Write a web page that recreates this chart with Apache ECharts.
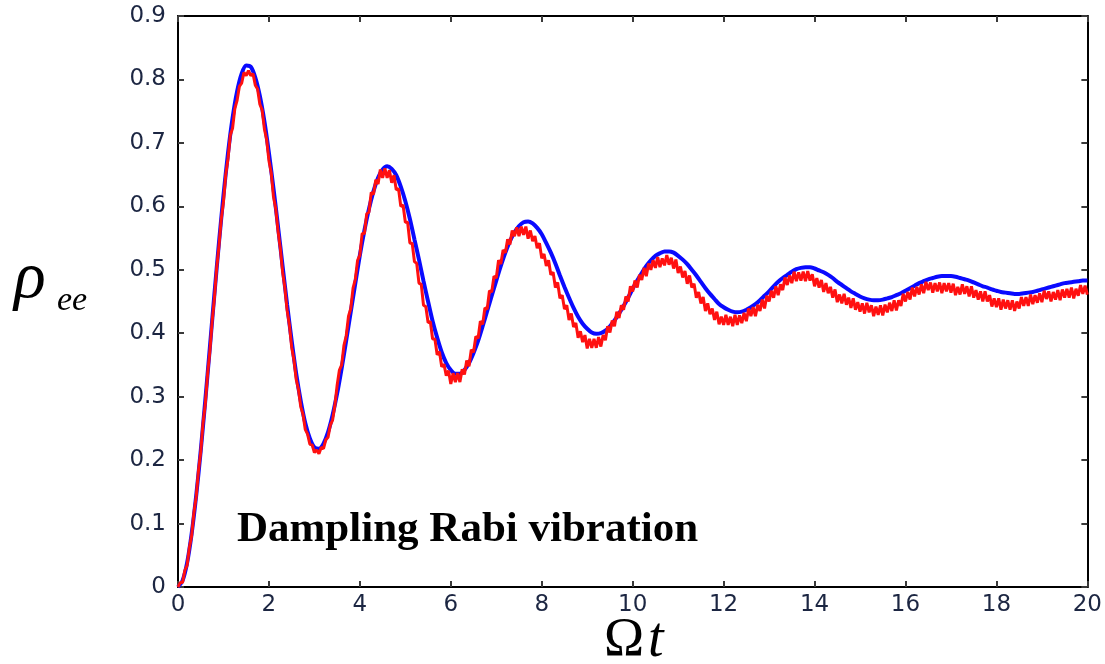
<!DOCTYPE html>
<html>
<head>
<meta charset="utf-8">
<script src="https://cdn.jsdelivr.net/npm/echarts@6/dist/echarts.min.js"></script>
<style>
html,body{margin:0;padding:0;background:#fff;}
#chart{width:1105px;height:664px;}
</style>
</head>
<body>
<div id="chart"></div>
<script>
// x ticks and y ticks
const xTickLabels = ['0','2','4','6','8','10','12','14','16','18','20'];
const yTickLabels = ['0','0.1','0.2','0.3','0.4','0.5','0.6','0.7','0.8','0.9'];

// sampling grids (Omega t)
const blueStep = 0.1;
const redStep = 0.05;

// exact damped Rabi curve (blue), sampled every 0.1 from 0 to 20
const rhoBlue = [
0.000,0.010,0.038,0.084,0.144,0.215,0.294,0.377,0.461,0.542,
0.617,0.684,0.739,0.781,0.809,0.822,0.820,0.803,0.774,0.734,
0.684,0.628,0.568,0.506,0.445,0.388,0.336,0.293,0.258,0.234,
0.220,0.218,0.226,0.244,0.271,0.305,0.345,0.389,0.434,0.479,
0.523,0.562,0.596,0.624,0.645,0.658,0.663,0.659,0.649,0.631,
0.608,0.580,0.548,0.516,0.482,0.450,0.419,0.393,0.370,0.353,
0.342,0.336,0.336,0.342,0.353,0.369,0.388,0.411,0.435,0.459,
0.483,0.506,0.527,0.545,0.559,0.569,0.575,0.576,0.573,0.566,
0.556,0.542,0.527,0.510,0.491,0.473,0.456,0.440,0.426,0.415,
0.407,0.401,0.399,0.400,0.404,0.411,0.420,0.431,0.443,0.456,
0.470,0.483,0.495,0.506,0.515,0.522,0.526,0.529,0.529,0.527,
0.522,0.516,0.509,0.500,0.491,0.481,0.471,0.462,0.454,0.446,
0.441,0.437,0.434,0.433,0.434,0.437,0.441,0.446,0.452,0.459,
0.466,0.474,0.481,0.487,0.492,0.497,0.501,0.503,0.504,0.504,
0.502,0.499,0.496,0.492,0.487,0.481,0.476,0.471,0.466,0.462,
0.458,0.455,0.453,0.452,0.452,0.453,0.455,0.457,0.460,0.463,
0.467,0.471,0.475,0.479,0.482,0.485,0.487,0.489,0.490,0.490,
0.490,0.489,0.487,0.485,0.483,0.480,0.477,0.474,0.472,0.469,
0.467,0.465,0.464,0.463,0.462,0.462,0.463,0.464,0.465,0.467,
0.469,0.471,0.473,0.475,0.477,0.479,0.480,0.481,0.482,0.483,
0.483
];

// noisy simulation (red), sampled every 0.05 from 0 to 20
const rhoRed = [
0,.007,.007,.026,.034,.062,.081,.117,.142,.183,
.213,.258,.288,.335,.371,.418,.455,.502,.537,.579,
.607,.650,.675,.712,.723,.754,.767,.789,.794,.811,
.806,.814,.806,.809,.791,.785,.761,.752,.722,.705,
.672,.653,.615,.596,.561,.534,.497,.472,.436,.413,
.378,.358,.327,.311,.284,.272,.248,.241,.225,.224,
.212,.216,.210,.220,.218,.232,.236,.255,.263,.286,
.318,.342,.350,.381,.396,.427,.439,.471,.485,.515,
.523,.557,.557,.588,.591,.622,.619,.642,.635,.658,
.645,.660,.645,.657,.637,.649,.626,.628,.600,.602,
.575,.575,.542,.542,.513,.510,.479,.477,.444,.442,
.417,.418,.391,.391,.366,.371,.347,.351,.333,.341,
.320,.337,.323,.337,.323,.343,.335,.357,.348,.374,
.370,.395,.392,.419,.414,.440,.438,.467,.465,.490,
.487,.515,.509,.531,.527,.548,.540,.562,.553,.567,
.553,.568,.555,.568,.549,.562,.545,.553,.534,.542,
.518,.525,.506,.515,.492,.496,.472,.480,.455,.460,
.438,.444,.421,.431,.410,.416,.393,.403,.386,.397,
.376,.391,.377,.391,.377,.394,.379,.397,.389,.411,
.401,.420,.411,.434,.424,.444,.437,.458,.450,.474,
.466,.483,.472,.492,.484,.503,.490,.510,.500,.515,
.503,.520,.504,.518,.507,.523,.508,.519,.502,.516,
.495,.505,.488,.498,.478,.491,.472,.478,.456,.465,
.447,.457,.435,.447,.430,.439,.421,.434,.414,.426,
.413,.429,.413,.426,.411,.429,.413,.428,.416,.432,
.419,.439,.427,.441,.427,.445,.435,.453,.439,.459,
.450,.467,.456,.474,.460,.477,.468,.488,.476,.491,
.479,.497,.482,.496,.483,.497,.482,.498,.483,.493,
.474,.487,.472,.484,.465,.479,.463,.473,.456,.469,
.449,.461,.447,.462,.445,.456,.440,.455,.437,.449,
.434,.447,.431,.448,.433,.444,.427,.442,.429,.444,
.428,.445,.433,.448,.435,.452,.436,.452,.443,.462,
.450,.465,.453,.472,.458,.473,.461,.477,.463,.481,
.468,.480,.464,.479,.466,.480,.463,.479,.466,.479,
.464,.478,.460,.473,.461,.477,.462,.474,.458,.474,
.456,.468,.453,.466,.450,.466,.450,.460,.442,.455,
.441,.455,.437,.453,.439,.452,.437,.452,.435,.450,
.439,.457,.443,.457,.443,.461,.446,.460,.448,.463,
.449,.467,.454,.466,.450,.465,.453,.468,.452,.469,
.456,.470,.456,.472,.455,.470,.459,.476,.462,.475,
.461
];

const blueData = rhoBlue.map((v, i) => [+(i * blueStep).toFixed(2), v]);
const redData = rhoRed.map((v, i) => [+(i * redStep).toFixed(2), v]);

const labelColor = '#1c2642';
const tickFont = 'DejaVu Sans';

const chart = echarts.init(document.getElementById('chart'), null, {renderer: 'canvas'});

const axisLineStyle = {color: '#000', width: 2};
const tickStyle = {color: '#3a3a3a', width: 2};

chart.setOption({
  animation: false,
  backgroundColor: '#fff',
  grid: {left: 178, right: 15, top: 16, bottom: 77, show: false},
  xAxis: [
    {
      type: 'value', min: 0, max: 20, interval: 2, position: 'bottom',
      axisLine: {show: true, onZero: false, lineStyle: axisLineStyle},
      axisTick: {show: true, inside: true, length: 6, lineStyle: tickStyle},
      axisLabel: {
        show: true, margin: 7, fontSize: 23, fontFamily: tickFont, color: labelColor,
        formatter: v => xTickLabels[Math.round(v / 2)]
      },
      splitLine: {show: false}
    },
    {
      type: 'value', min: 0, max: 20, interval: 2, position: 'top',
      axisLine: {show: true, onZero: false, lineStyle: axisLineStyle},
      axisTick: {show: true, inside: true, length: 6, lineStyle: tickStyle},
      axisLabel: {show: false},
      splitLine: {show: false}
    }
  ],
  yAxis: [
    {
      type: 'value', min: 0, max: 0.9, interval: 0.1, position: 'left',
      axisLine: {show: true, onZero: false, lineStyle: axisLineStyle},
      axisTick: {show: true, inside: true, length: 6, lineStyle: tickStyle},
      axisLabel: {
        show: true, margin: 12, fontSize: 23, fontFamily: tickFont, color: labelColor,
        formatter: v => yTickLabels[Math.round(v * 10)]
      },
      splitLine: {show: false}
    },
    {
      type: 'value', min: 0, max: 0.9, interval: 0.1, position: 'right',
      axisLine: {show: true, onZero: false, lineStyle: axisLineStyle},
      axisTick: {show: true, inside: true, length: 6, lineStyle: tickStyle},
      axisLabel: {show: false},
      splitLine: {show: false}
    }
  ],
  series: [
    {
      type: 'line', name: 'exact', data: blueData, showSymbol: false, symbol: 'none',
      smooth: 0.3, z: 2,
      lineStyle: {color: '#0a0aff', width: 4}
    },
    {
      type: 'line', name: 'simulation', data: redData, showSymbol: false, symbol: 'none',
      smooth: false, z: 3,
      lineStyle: {color: '#ff1010', width: 3}
    }
  ],
  graphic: [
    {
      type: 'text', x: 237, y: 530,
      style: {
        text: 'Dampling Rabi vibration', fill: '#000',
        font: 'bold 43px "Liberation Serif", "Times New Roman", serif',
        align: 'left', verticalAlign: 'middle', textAlign: 'left', textVerticalAlign: 'middle'
      }
    },
    {
      type: 'text', x: 14, y: 280,
      style: {
        text: 'ρ', fill: '#000',
        font: 'italic 66px "Liberation Serif", "Times New Roman", serif',
        align: 'left', verticalAlign: 'middle', textAlign: 'left', textVerticalAlign: 'middle'
      }
    },
    {
      type: 'text', x: 57, y: 301,
      style: {
        text: 'ee', fill: '#000',
        font: 'italic 34px "Liberation Serif", "Times New Roman", serif',
        align: 'left', verticalAlign: 'middle', textAlign: 'left', textVerticalAlign: 'middle'
      }
    },
    {
      type: 'text', x: 604, y: 641,
      style: {
        text: 'Ω', fill: '#000',
        font: '54px "Liberation Serif", "Times New Roman", serif',
        align: 'left', verticalAlign: 'middle', textAlign: 'left', textVerticalAlign: 'middle'
      }
    },
    {
      type: 'text', x: 648, y: 641,
      style: {
        text: 't', fill: '#000',
        font: 'italic 56px "Liberation Serif", "Times New Roman", serif',
        align: 'left', verticalAlign: 'middle', textAlign: 'left', textVerticalAlign: 'middle'
      }
    }
  ]
});
</script>
</body>
</html>
